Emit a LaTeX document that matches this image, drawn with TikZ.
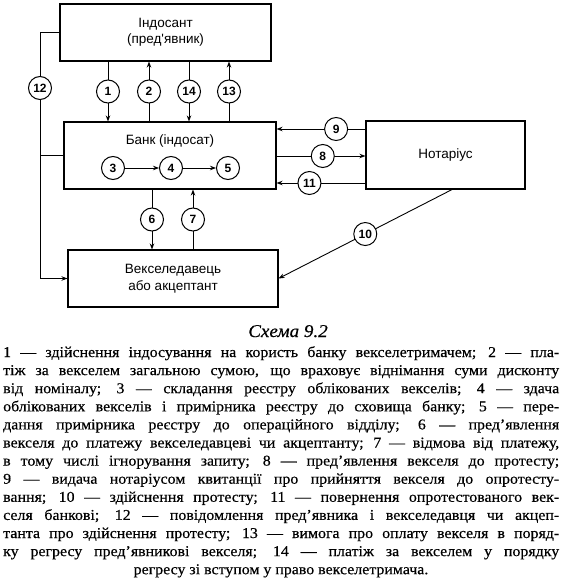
\documentclass[tikz,border=0pt]{standalone}
\usepackage{fontspec}
\setmainfont{Liberation Serif}[FakeStretch=1.06,FakeBold=0.4]
\newfontfamily\dsans{Liberation Sans}
\usetikzlibrary{arrows.meta}
\tikzset{
  box/.style={draw, line width=1.1pt, inner sep=0pt, align=center, font=\dsans\fontsize{13.5}{16.5}\selectfont},
  lbl/.style={inner sep=0pt, font=\dsans\fontsize{13.5}{16.5}\selectfont},
  circ/.style={circle, draw, line width=1pt, fill=white, minimum size=23pt, inner sep=0pt, font=\dsans\bfseries\fontsize{12}{12}\selectfont},
  conn/.style={line width=0.9pt},
  arr/.style={line width=0.9pt, -{Stealth[length=6pt,width=4.5pt]}},
  txt/.style={anchor=base west, inner sep=0pt, font=\fontsize{15}{18}\selectfont},
}
\newcommand{\tl}[1]{\makebox[556pt][s]{#1}}
\begin{document}
\begin{tikzpicture}[x=1pt,y=-1pt]
\useasboundingbox (0,0) rectangle (562,588);
% boxes
\node[box, minimum width=211pt, minimum height=57pt] (top) at (165.5,32.5) {Індосант\\(пред'явник)};
\node[box, minimum width=212pt, minimum height=67pt] (bank) at (170,155.5) {};
\node[box, minimum width=159pt, minimum height=68pt] (notary) at (445.5,155) {Нотаріус};
\node[box, minimum width=210pt, minimum height=57pt] (payer) at (173,278.5) {Векселедавець\\або акцептант};
\node[lbl] (banktitle) at (170,141) {Банк (індосат)};
% x positions
\coordinate (x1) at (108,0);
\coordinate (x2) at (149,0);
\coordinate (x14) at (189,0);
\coordinate (x13) at (229,0);
\coordinate (x6) at (152,0);
\coordinate (x7) at (193,0);
\coordinate (x12) at (40,0);
\coordinate (y9) at (0,129);
\coordinate (y8) at (0,156);
\coordinate (y11) at (0,183);
\coordinate (n10) at (452,0);
% top <-> bank
\draw[arr] (top.south -| x1) -- (bank.north -| x1) node[circ, midway] (c1) {1};
\draw[arr] (bank.north -| x2) -- (top.south -| x2) node[circ, midway] (c2) {2};
\draw[arr] (top.south -| x14) -- (bank.north -| x14) node[circ, midway] (c14) {14};
\draw[arr] (bank.north -| x13) -- (top.south -| x13) node[circ, midway] (c13) {13};
% bank <-> payer
\draw[arr] (bank.south -| x6) -- (payer.north -| x6) node[circ, midway] (c6) {6};
\draw[arr] (payer.north -| x7) -- (bank.south -| x7) node[circ, midway] (c7) {7};
% bank <-> notary
\draw[arr] (notary.west |- y9) -- (bank.east |- y9) node[circ, pos=0.33] (c9) {9};
\draw[arr] (bank.east |- y8) -- (notary.west |- y8) node[circ, pos=0.52] (c8) {8};
\draw[arr] (notary.west |- y11) -- (bank.east |- y11) node[circ, pos=0.63] (c11) {11};
% notary -> payer
\draw[arr] (notary.south -| n10) -- (payer.east) node[circ, pos=0.5] (c10) {10};
% 12
\draw[conn] (bank.west) -- (bank.west -| x12);
\draw[arr] (top.west) -- (top.west -| x12) -- (x12 |- payer.west) -- (payer.west);
\node[circ] (c12) at (40,88) {12};
% inside bank
\node[circ] (c3) at (113,168) {3};
\node[circ] (c4) at (171,168) {4};
\node[circ] (c5) at (228,168) {5};
\draw[arr] (c3) -- (c4);
\draw[arr] (c4) -- (c5);
% caption
\node[anchor=base, inner sep=0pt, font=\itshape\fontsize{18}{20}\selectfont] (cap) at (288,337) {Схема 9.2};
% legend
\node[txt] (t1) at (3,357) {\tl{1 — здійснення індосування на користь банку векселетримачем; 2 — пла-}};
\node[txt] (t2) at (3,375.1) {\tl{тіж за векселем загальною сумою, що враховує віднімання суми дисконту}};
\node[txt] (t3) at (3,393.2) {\tl{від номіналу; 3 — складання реєстру облікованих векселів; 4 — здача}};
\node[txt] (t4) at (3,411.3) {\tl{облікованих векселів і примірника реєстру до сховища банку; 5 — пере-}};
\node[txt] (t5) at (3,429.4) {\tl{дання примірника реєстру до операційного відділу; 6 — пред'явлення}};
\node[txt] (t6) at (3,447.5) {\tl{векселя до платежу векселедавцеві чи акцептанту; 7 — відмова від платежу,}};
\node[txt] (t7) at (3,465.6) {\tl{в тому числі ігнорування запиту; 8 — пред'явлення векселя до протесту;}};
\node[txt] (t8) at (3,483.7) {\tl{9 — видача нотаріусом квитанції про прийняття векселя до опротесту-}};
\node[txt] (t9) at (3,501.8) {\tl{вання; 10 — здійснення протесту; 11 — повернення опротестованого век-}};
\node[txt] (t10) at (3,519.9) {\tl{селя банкові; 12 — повідомлення пред'явника і векселедавця чи акцеп-}};
\node[txt] (t11) at (3,538) {\tl{танта про здійснення протесту; 13 — вимога про оплату векселя в поряд-}};
\node[txt] (t12) at (3,556.1) {\tl{ку регресу пред'явникові векселя; 14 — платіж за векселем у порядку}};
\node[anchor=base, inner sep=0pt, font=\fontsize{15}{18}\selectfont] (t13) at (281,574.2) {регресу зі вступом у право векселетримача.};
\end{tikzpicture}
\end{document}
